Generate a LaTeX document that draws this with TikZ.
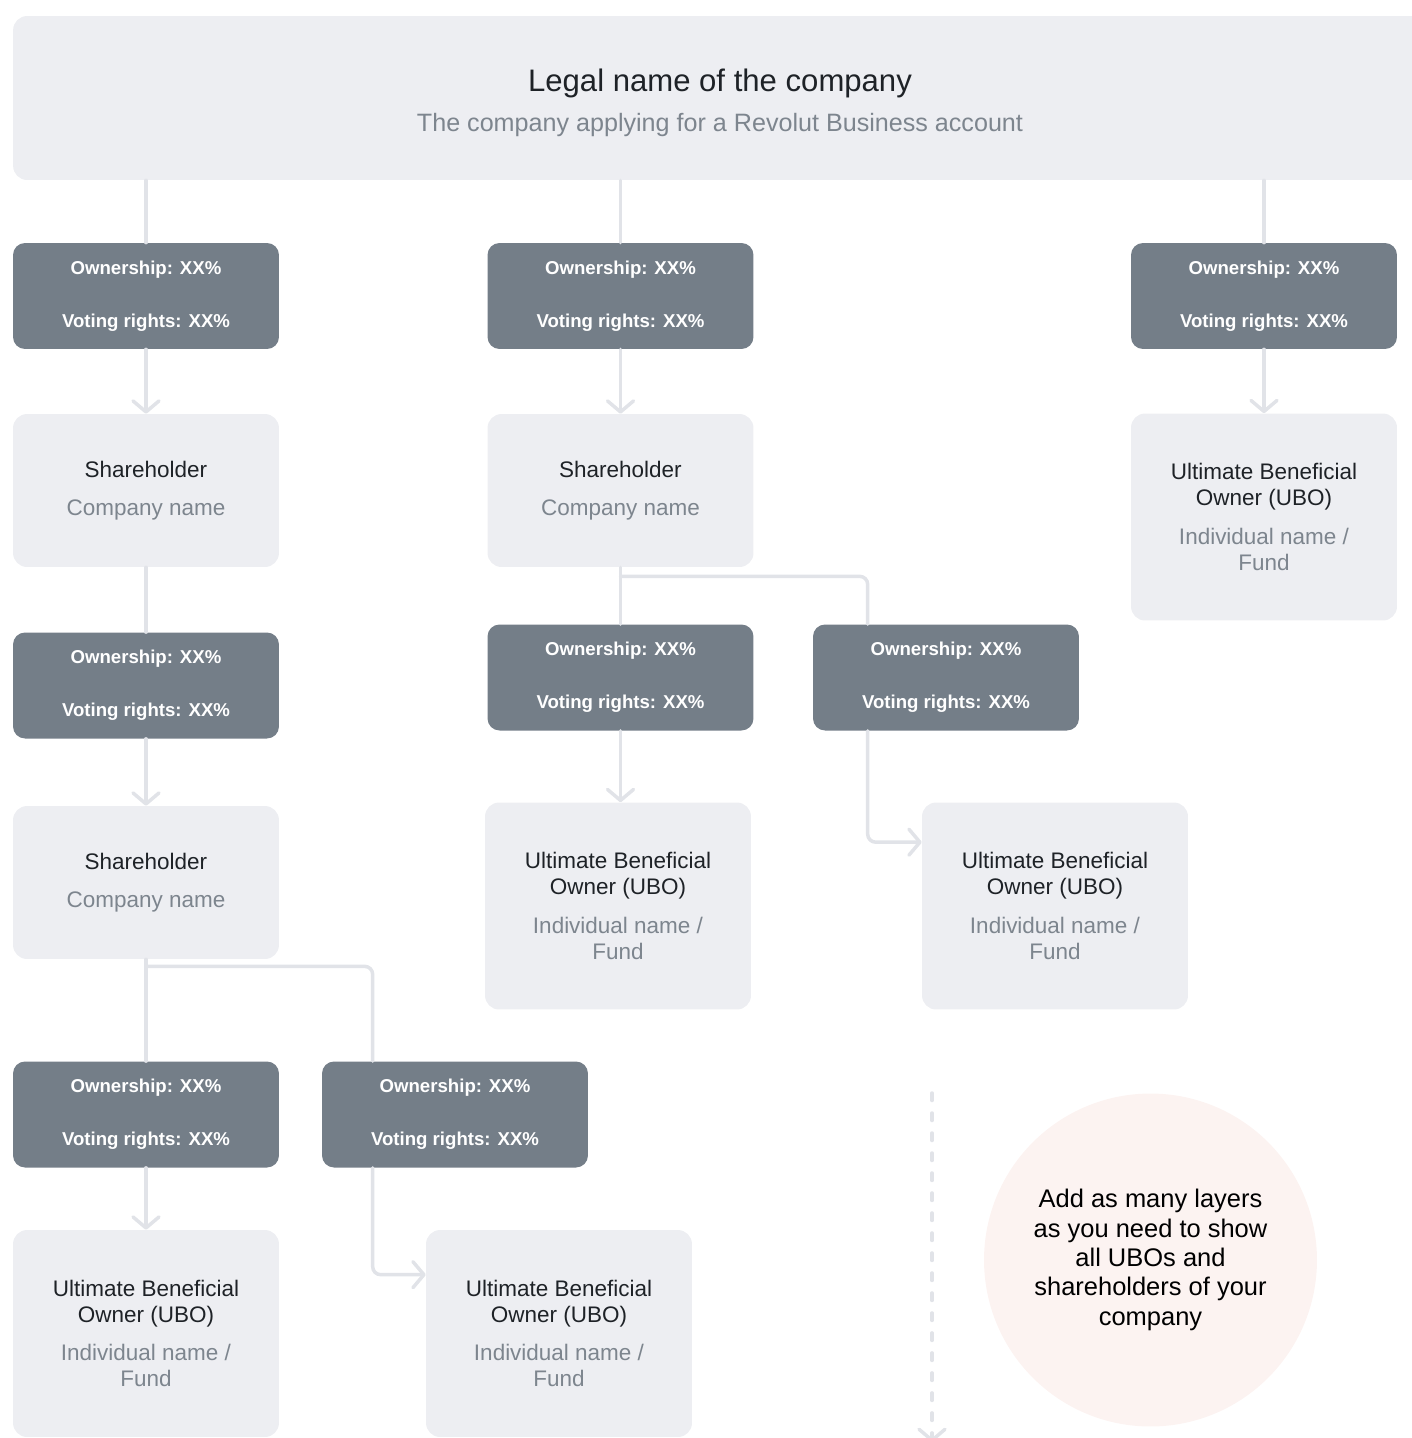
\documentclass[tikz,border=0pt]{standalone}
\usepackage{fontspec}
\setmainfont{Liberation Sans}
\usetikzlibrary{arrows.meta,calc}

\definecolor{boxgrey}{HTML}{EDEEF2}
\definecolor{darkbox}{HTML}{747E88}
\definecolor{linkgrey}{HTML}{E1E3E8}
\definecolor{subgrey}{HTML}{7D858E}
\definecolor{inkdark}{HTML}{1E2227}
\definecolor{notepink}{HTML}{FCF3F1}

\tikzset{
  pct/.style={fill=darkbox, rounded corners=0.24cm, minimum width=5.32cm,
    minimum height=2.12cm, inner sep=0pt, text=white, align=center,
    font=\fontsize{10.6}{30}\selectfont\bfseries},
  holder/.style={fill=boxgrey, rounded corners=0.28cm, minimum width=5.32cm,
    minimum height=3.06cm, inner sep=0pt, text=inkdark, align=center,
    font=\fontsize{12.8}{21.5}\selectfont},
  ubo/.style={holder, minimum height=4.14cm, font=\fontsize{12.8}{14.7}\selectfont},
  link/.style={draw=linkgrey, line width=0.07cm, line cap=round, line join=round},
  tip/.style={-{Straight Barb[length=0.22cm,width=0.52cm,line cap=round,line join=round]}},
}

\newcommand{\pcttext}{Ownership: XX\%\\Voting rights: XX\%}
\newcommand{\shtext}{Shareholder\\\textcolor{subgrey}{Company name}}
\newcommand{\ubotext}{Ultimate Beneficial\\Owner (UBO)\\[7.4pt]\textcolor{subgrey}{Individual name /}\\\textcolor{subgrey}{Fund}}

\begin{document}
\begin{tikzpicture}[x=0.02cm,y=-0.02cm]
            \useasboundingbox (0,0) rectangle (1412,1438);
            \clip (0,0) rectangle (1412,1438);

            % top company box
            \node[fill=boxgrey, rounded corners=0.28cm, minimum width=28.54cm, minimum height=3.28cm] (company) at (726.5,98) {};
            \node[text=inkdark, font=\fontsize{17.7}{20}\selectfont] (title) at (720,83) {Legal name of the company};
            \node[text=subgrey, font=\fontsize{14.3}{17}\selectfont] (subtitle) at (720,125) {The company applying for a Revolut Business account};

            % left column
            \node[pct] (own1) at (146,296) {\pcttext};
            \node[holder] (sh1) at (146,490.5) {\shtext};
            \node[pct] (own2) at (146,685.5) {\pcttext};
            \node[holder] (sh2) at (146,882.5) {\shtext};
            \node[pct] (own3) at (146,1114.5) {\pcttext};
            \node[pct] (own4) at (455,1114.5) {\pcttext};
            \node[ubo] (ubo1) at (146,1333.5) {\ubotext};
            \node[ubo] (ubo2) at (559,1333.5) {\ubotext};

            % middle column
            \node[pct] (own5) at (620.5,296) {\pcttext};
            \node[holder] (sh3) at (620.5,490.5) {\shtext};
            \node[pct] (own6) at (620.5,677.5) {\pcttext};
            \node[pct] (own7) at (946,677.5) {\pcttext};
            \node[ubo] (ubo3) at (618,906) {\ubotext};
            \node[ubo] (ubo4) at (1055,906) {\ubotext};

            % right column
            \node[pct] (own8) at (1264,296) {\pcttext};
            \node[ubo] (ubo5) at (1264,517) {\ubotext};

            % note
            \node[circle, fill=notepink, minimum size=6.66cm, align=center, text=black,
              font=\fontsize{14.5}{16.7}\selectfont] (note) at (1150.5,1260)
              {Add as many layers\\as you need to show\\all UBOs and\\shareholders of your\\company};

            \coordinate (dashtop) at (932,1093);
            \coordinate (dashend) at (932,1442);

            % connectors
            \draw[link] (company.south -| own1.north) -- (own1.north);
            \draw[link,tip] (own1.south) -- (sh1.north);
            \draw[link] (sh1.south) -- (own2.north);
            \draw[link,tip] (own2.south) -- (sh2.north);
            \draw[link] (sh2.south) -- (own3.north);
            \draw[link, rounded corners=0.16cm] ($(sh2.south)+(0,7)$) -| ($(own4.north west)+(51,0)$);
            \draw[link,tip] (own3.south) -- (ubo1.north);
            \draw[link,tip, rounded corners=0.16cm] ($(own4.south west)+(51,0)$) |- ($(ubo2.north west)+(0,45)$);

            \draw[link] (company.south -| own5.north) -- (own5.north);
            \draw[link,tip] (own5.south) -- (sh3.north);
            \draw[link] (sh3.south) -- (own6.north);
            \draw[link, rounded corners=0.16cm] ($(sh3.south)+(0,9)$) -| ($(own7.north west)+(55,0)$);
            \draw[link,tip] (own6.south) -- (own6.south |- ubo3.north);
            \draw[link,tip, rounded corners=0.16cm] ($(own7.south west)+(55,0)$) |- ($(ubo4.north west)+(0,40)$);

            \draw[link] (company.south -| own8.north) -- (own8.north);
            \draw[link,tip] (own8.south) -- (ubo5.north);

            \draw[link, tip, dash pattern=on 0.15cm off 0.25cm] (dashtop) -- (dashend);
\end{tikzpicture}
\end{document}
